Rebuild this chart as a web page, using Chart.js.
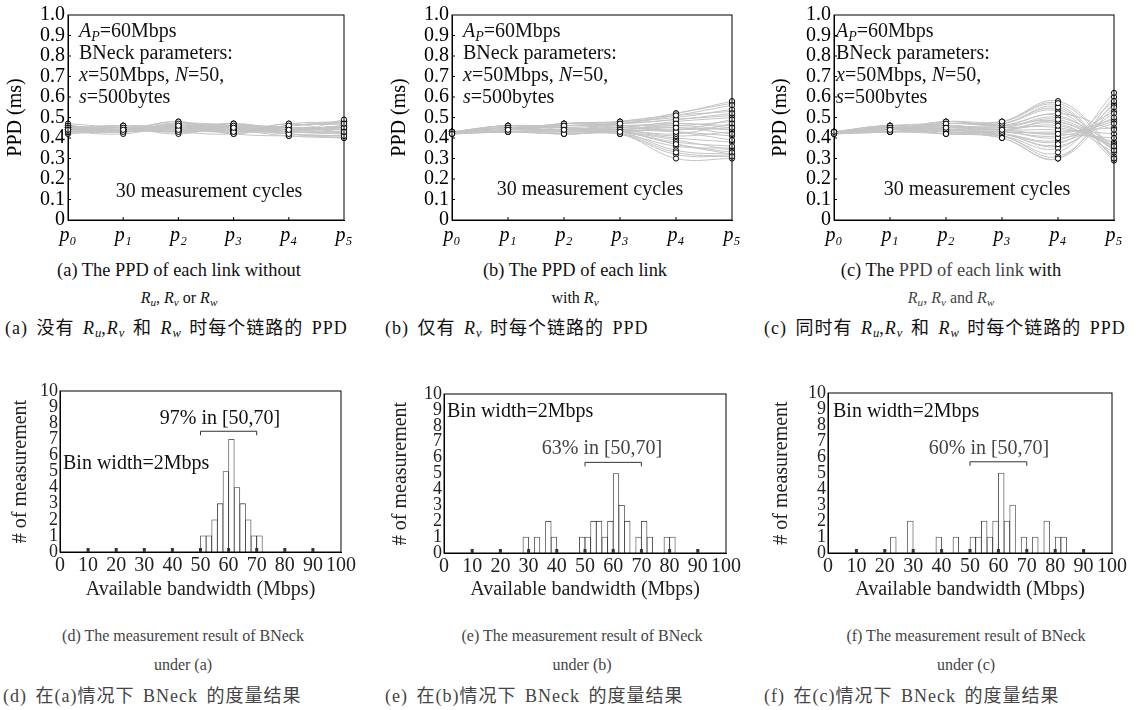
<!DOCTYPE html>
<html>
<head>
<meta charset="utf-8">
<script src="https://cdn.jsdelivr.net/npm/chart.js@4.4.1/dist/chart.umd.min.js"></script>
<style>
  body { margin: 0; background: #fff; }
  #fig { position: relative; width: 1140px; height: 710px; overflow: hidden;
         font-family: "Liberation Serif", "Times New Roman", serif; color: #111; }
  canvas { position: absolute; }
  .t { position: absolute; white-space: nowrap; }
  .cap { font-size: 16px; transform: translate(-50%, -50%); }
  .cap.big { font-size: 18.4px; }
  .zh { font-size: 18px; letter-spacing: 1px; word-spacing: 3px; transform: translateY(-50%);
        font-family: "Liberation Serif", "Noto Sans CJK SC", serif; }
  .note { font-size: 20px; line-height: 22px; }
  .mid { font-size: 20px; transform: translate(-50%, -50%); }
  .lft { font-size: 20px; transform: translateY(-50%); }
  sub { font-size: 70%; vertical-align: -0.25em; line-height: 0; letter-spacing: 0; }
  .gray { color: #444; }
</style>
</head>
<body>
<div id="fig">
  <canvas id="ppdA"></canvas>
  <canvas id="ppdB"></canvas>
  <canvas id="ppdC"></canvas>
  <canvas id="histD"></canvas>
  <canvas id="histE"></canvas>
  <canvas id="histF"></canvas>

  <!-- notes inside the PPD panels -->
  <div class="t note" style="left:79px;top:19px"><i>A</i><sub><i>P</i></sub>=60Mbps<br>BNeck parameters:<br><i>x</i>=50Mbps, <i>N</i>=50,<br><i>s</i>=500bytes</div>
  <div class="t note" style="left:463px;top:19px"><i>A</i><sub><i>P</i></sub>=60Mbps<br>BNeck parameters:<br><i>x</i>=50Mbps, <i>N</i>=50,<br><i>s</i>=500bytes</div>
  <div class="t note" style="left:836px;top:19px"><i>A</i><sub><i>P</i></sub>=60Mbps<br>BNeck parameters:<br><i>x</i>=50Mbps, <i>N</i>=50,<br><i>s</i>=500bytes</div>
  <div class="t mid" style="left:209px;top:190px">30 measurement cycles</div>
  <div class="t mid" style="left:590px;top:188px">30 measurement cycles</div>
  <div class="t mid" style="left:977px;top:188px">30 measurement cycles</div>

  <!-- notes inside the histograms -->
  <div class="t mid" style="left:220px;top:417px">97% in [50,70]</div>
  <div class="t lft" style="left:63px;top:462px">Bin width=2Mbps</div>
  <div class="t mid gray" style="left:602px;top:447px">63% in [50,70]</div>
  <div class="t lft" style="left:447px;top:410px">Bin width=2Mbps</div>
  <div class="t mid gray" style="left:989px;top:447px">60% in [50,70]</div>
  <div class="t lft" style="left:833px;top:410px">Bin width=2Mbps</div>

  <!-- captions -->
  <div class="t cap big" style="left:179px;top:270px">(a) The PPD of each link without</div>
  <div class="t cap" style="left:179px;top:298px"><i>R</i><sub><i>u</i></sub>, <i>R</i><sub><i>v</i></sub> or <i>R</i><sub><i>w</i></sub></div>
  <div class="t zh" style="left:5px;top:326px">(a) 没有 <i>R</i><sub><i>u</i></sub>,<i>R</i><sub><i>v</i></sub> 和 <i>R</i><sub><i>w</i></sub> 时每个链路的 PPD</div>
  <div class="t cap big" style="left:575px;top:270px">(b) The PPD of each link</div>
  <div class="t cap" style="left:575px;top:298px">with <i>R</i><sub><i>v</i></sub></div>
  <div class="t zh" style="left:385px;top:326px">(b) 仅有 <i>R</i><sub><i>v</i></sub> 时每个链路的 PPD</div>
  <div class="t cap big" style="left:951px;top:270px">(c) The <span class="gray">PPD of each link</span> with</div>
  <div class="t cap gray" style="left:951px;top:298px"><i>R</i><sub><i>u</i></sub>, <i>R</i><sub><i>v</i></sub> and <i>R</i><sub><i>w</i></sub></div>
  <div class="t zh" style="left:764px;top:326px">(c) 同时有 <i>R</i><sub><i>u</i></sub>,<i>R</i><sub><i>v</i></sub> 和 <i>R</i><sub><i>w</i></sub> 时每个链路的 PPD</div>

  <div class="t cap gray" style="left:183px;top:636px">(d) The measurement result of BNeck</div>
  <div class="t cap gray" style="left:183px;top:665px">under (a)</div>
  <div class="t zh gray" style="left:3px;top:694px">(d) 在(a)情况下 BNeck 的度量结果</div>
  <div class="t cap gray" style="left:582px;top:636px">(e) The measurement result of BNeck</div>
  <div class="t cap gray" style="left:582px;top:665px">under (b)</div>
  <div class="t zh gray" style="left:385px;top:694px">(e) 在(b)情况下 BNeck 的度量结果</div>
  <div class="t cap gray" style="left:966px;top:636px">(f) The measurement result of BNeck</div>
  <div class="t cap gray" style="left:966px;top:665px">under (c)</div>
  <div class="t zh gray" style="left:764px;top:694px">(f) 在(c)情况下 BNeck 的度量结果</div>
</div>

<script>
const links = ['p₀', 'p₁', 'p₂', 'p₃', 'p₄', 'p₅'];

// PPD (ms) read at each link, one value per measurement cycle (30 cycles)
// (a) without Ru, Rv or Rw
const ppdA0 = [0.44,0.45,0.43,0.46,0.44,0.45,0.47,0.43,0.44,0.45,0.46,0.44,0.43,0.45,0.44,0.46,0.45,0.44,0.43,0.45,0.44,0.46,0.45,0.44,0.42,0.45,0.44,0.46,0.45,0.44];
const ppdA1 = [0.44,0.45,0.43,0.44,0.46,0.44,0.45,0.42,0.45,0.44,0.43,0.46,0.44,0.45,0.43,0.44,0.45,0.46,0.44,0.43,0.45,0.44,0.43,0.45,0.44,0.46,0.43,0.44,0.45,0.44];
const ppdA2 = [0.46,0.44,0.47,0.43,0.45,0.48,0.44,0.46,0.42,0.45,0.47,0.44,0.46,0.43,0.45,0.44,0.47,0.45,0.43,0.46,0.44,0.48,0.45,0.43,0.46,0.44,0.45,0.47,0.44,0.46];
const ppdA3 = [0.45,0.43,0.46,0.44,0.47,0.42,0.45,0.44,0.46,0.43,0.45,0.47,0.44,0.42,0.46,0.45,0.43,0.44,0.46,0.45,0.47,0.43,0.44,0.45,0.42,0.46,0.44,0.45,0.43,0.46];
const ppdA4 = [0.44,0.46,0.42,0.45,0.43,0.47,0.44,0.41,0.45,0.46,0.43,0.44,0.42,0.46,0.45,0.43,0.44,0.47,0.45,0.42,0.44,0.46,0.43,0.45,0.41,0.44,0.46,0.43,0.45,0.44];
const ppdA5 = [0.43,0.47,0.41,0.45,0.49,0.42,0.46,0.40,0.44,0.48,0.43,0.45,0.41,0.47,0.44,0.42,0.46,0.48,0.43,0.40,0.45,0.47,0.42,0.44,0.41,0.46,0.48,0.43,0.45,0.42];
// (b) with Rv
const ppdB0 = [0.42,0.43,0.42,0.43,0.43,0.42,0.43,0.42,0.43,0.42,0.43,0.43,0.42,0.43,0.42,0.43,0.42,0.43,0.43,0.42,0.43,0.42,0.43,0.42,0.43,0.43,0.42,0.43,0.42,0.43];
const ppdB1 = [0.44,0.45,0.43,0.46,0.44,0.45,0.43,0.44,0.46,0.45,0.44,0.43,0.45,0.44,0.46,0.45,0.43,0.44,0.45,0.46,0.44,0.43,0.45,0.44,0.45,0.46,0.44,0.43,0.45,0.44];
const ppdB2 = [0.44,0.46,0.42,0.45,0.47,0.43,0.44,0.46,0.45,0.42,0.47,0.44,0.43,0.46,0.45,0.44,0.42,0.47,0.45,0.43,0.46,0.44,0.45,0.43,0.46,0.44,0.47,0.42,0.45,0.44];
const ppdB3 = [0.43,0.47,0.42,0.44,0.48,0.43,0.45,0.47,0.44,0.42,0.48,0.43,0.44,0.46,0.43,0.45,0.42,0.47,0.44,0.43,0.46,0.44,0.43,0.48,0.45,0.42,0.47,0.43,0.44,0.46];
const ppdB4 = [0.45,0.51,0.33,0.47,0.52,0.37,0.43,0.49,0.42,0.30,0.50,0.38,0.46,0.44,0.34,0.48,0.36,0.52,0.41,0.37,0.47,0.43,0.39,0.51,0.45,0.32,0.49,0.40,0.44,0.46];
const ppdB5 = [0.42,0.56,0.31,0.45,0.58,0.33,0.39,0.52,0.47,0.30,0.54,0.36,0.44,0.49,0.32,0.50,0.35,0.57,0.43,0.32,0.46,0.41,0.34,0.53,0.44,0.31,0.51,0.38,0.45,0.48];
// (c) with Ru, Rv and Rw
const ppdC0 = [0.43,0.42,0.43,0.43,0.42,0.43,0.42,0.43,0.42,0.43,0.43,0.42,0.43,0.42,0.43,0.42,0.43,0.43,0.42,0.43,0.42,0.43,0.43,0.42,0.43,0.42,0.43,0.42,0.43,0.43];
const ppdC1 = [0.44,0.45,0.43,0.46,0.44,0.43,0.45,0.44,0.46,0.45,0.43,0.44,0.45,0.44,0.46,0.43,0.45,0.44,0.45,0.46,0.43,0.44,0.45,0.44,0.43,0.46,0.44,0.45,0.44,0.43];
const ppdC2 = [0.45,0.47,0.42,0.44,0.48,0.43,0.46,0.44,0.47,0.42,0.45,0.48,0.43,0.46,0.44,0.45,0.42,0.47,0.46,0.43,0.44,0.48,0.45,0.42,0.46,0.44,0.47,0.43,0.45,0.44];
const ppdC3 = [0.44,0.48,0.40,0.43,0.47,0.42,0.45,0.41,0.48,0.43,0.44,0.46,0.40,0.45,0.42,0.47,0.41,0.46,0.44,0.42,0.43,0.48,0.45,0.41,0.44,0.43,0.47,0.42,0.46,0.44];
const ppdC4 = [0.46,0.57,0.30,0.42,0.55,0.37,0.49,0.33,0.58,0.40,0.47,0.52,0.30,0.50,0.38,0.54,0.35,0.48,0.44,0.36,0.41,0.56,0.45,0.31,0.48,0.43,0.53,0.39,0.51,0.42];
const ppdC5 = [0.36,0.34,0.55,0.40,0.30,0.58,0.36,0.62,0.35,0.47,0.33,0.44,0.60,0.37,0.50,0.31,0.56,0.35,0.42,0.52,0.48,0.30,0.38,0.57,0.36,0.45,0.29,0.53,0.34,0.49];

// histograms of measured available bandwidth (Mbps), bin width 2
const binWidth = 2;
const binStartD = [50,52,54,56,58,60,62,64,66,68,70];
const countD    = [1, 1, 2, 3, 5, 7, 4, 3, 2, 1, 1];
const binStartE = [28,32,36,38,48,50,52,54,56,58,60,62,64,68,70,72,78,80];
const countE    = [1, 1, 2, 1, 1, 1, 2, 2, 1, 2, 5, 3, 2, 1, 2, 1, 1, 1];
const binStartF = [22,28,38,44,50,52,54,56,58,60,62,64,68,72,76,80,82];
const countF    = [1, 2, 1, 1, 1, 1, 2, 1, 2, 5, 2, 3, 1, 1, 2, 1, 1];
const rangeLo = 50, rangeHi = 70;

const serif = '"Liberation Serif", "DejaVu Serif", serif';

// box round the plot, small inward ticks and the [50,70] bracket
const framePlugin = {
  id: 'frame',
  afterDatasetsDraw(chart, args, opts) {
    const { ctx, chartArea: a, scales } = chart;
    ctx.save();
    ctx.strokeStyle = '#000';
    ctx.lineWidth = 1;
    ctx.strokeRect(a.left, a.top, a.right - a.left, a.bottom - a.top);

    ctx.fillStyle = opts.tickColor || '#000';
    const xs = scales.x, ys = scales.y;
    xs.ticks.forEach((t, i) => {
      if (i === 0 || i === xs.ticks.length - 1) return;
      const px = xs.getPixelForTick(i);
      ctx.fillRect(px - opts.xTickW / 2, a.bottom - opts.xLen, opts.xTickW, opts.xLen);
    });
    if (opts.yLen) {
      ys.ticks.forEach((t, i) => {
        if (i === 0 || i === ys.ticks.length - 1) return;
        const py = ys.getPixelForTick(i);
        ctx.fillRect(a.left, py - 0.5, opts.yLen, 1);
      });
    }
    if (opts.bracket) {
      const b = opts.bracket;
      const x1 = xs.getPixelForValue(b.lo), x2 = xs.getPixelForValue(b.hi);
      const y = ys.getPixelForValue(b.level);
      ctx.strokeStyle = '#333';
      ctx.beginPath();
      ctx.moveTo(x1, y + 4); ctx.lineTo(x1, y); ctx.lineTo(x2, y); ctx.lineTo(x2, y + 4);
      ctx.stroke();
    }
    ctx.restore();
  }
};

function place(id, box) {
  const c = document.getElementById(id);
  c.width = box.w; c.height = box.h;
  c.style.left = box.left + 'px';
  c.style.top = box.top + 'px';
  return c;
}

function ppdChart(id, box, plot, yTitleX, columns) {
  const canvas = place(id, box);
  const lineSets = [], pointSets = [];
  for (let i = 0; i < columns[0].length; i++) {
    const vals = columns.map(col => col[i]);
    lineSets.push({ data: vals, borderColor: '#c4c4c4', borderWidth: 1, tension: 0.4,
                    pointRadius: 0, order: 2 });
    pointSets.push({ data: vals, showLine: false, pointRadius: 2.6, pointBorderColor: '#000',
                     pointBackgroundColor: '#fff', pointBorderWidth: 1, order: 1 });
  }
  new Chart(canvas, {
    type: 'line',
    data: { labels: links, datasets: lineSets.concat(pointSets) },
    options: {
      responsive: false, animation: false, events: [],
      layout: { padding: { top: plot.t - box.top, right: box.left + box.w - plot.r, left: 0, bottom: 0 } },
      plugins: { legend: { display: false }, tooltip: { enabled: false },
                 frame: { xLen: 3, xTickW: 1, yLen: 3 } },
      scales: {
        x: {
          type: 'category', offset: false,
          grid: { display: false, drawTicks: false }, border: { color: '#000' },
          ticks: { padding: 4, color: '#000', autoSkip: false, maxRotation: 0,
                   font: { family: serif, size: 20, style: 'italic' } },
          afterFit: s => { s.height = box.top + box.h - plot.b; }
        },
        y: {
          min: 0, max: 1,
          grid: { display: false, drawTicks: false }, border: { color: '#000' },
          ticks: { stepSize: 0.1, autoSkip: false, padding: 3, color: '#000',
                   font: { family: serif, size: 20 },
                   callback: v => v === 0 ? '0' : v.toFixed(1) },
          title: { display: true, text: 'PPD (ms)', color: '#000',
                   font: { family: serif, size: 20 }, padding: { top: yTitleX - box.left - 12 } },
          afterFit: s => { s.width = plot.l - box.left; }
        }
      }
    },
    plugins: [framePlugin]
  });
}

function histChart(id, box, plot, yTitleX, xTitleY, starts, counts, level) {
  const canvas = place(id, box);
  const bars = counts.map((c, i) => ({ x: starts[i] + binWidth / 2, y: c }));
  new Chart(canvas, {
    type: 'bar',
    data: { datasets: [{ data: bars, backgroundColor: '#fff', borderColor: '#333', borderWidth: 0.8,
                         barPercentage: 1, categoryPercentage: 1 }] },
    options: {
      responsive: false, animation: false, events: [],
      layout: { padding: { top: plot.t - box.top, right: box.left + box.w - plot.r, left: 0, bottom: 0 } },
      plugins: { legend: { display: false }, tooltip: { enabled: false },
                 frame: { xLen: 4, xTickW: 3, yLen: 0, tickColor: '#333',
                          bracket: { lo: rangeLo, hi: rangeHi, level: level } } },
      scales: {
        x: {
          type: 'linear', min: 0, max: 100, offset: false,
          grid: { display: false, drawTicks: false }, border: { color: '#000' },
          ticks: { stepSize: 10, padding: 2, color: '#222', autoSkip: false, maxRotation: 0,
                   font: { family: serif, size: 20 } },
          title: { display: true, text: 'Available bandwidth (Mbps)', color: '#222',
                   font: { family: serif, size: 20 },
                   padding: { top: 0, bottom: box.h - (xTitleY - box.top) - 12 } },
          afterFit: s => { s.height = box.top + box.h - plot.b; }
        },
        y: {
          min: 0, max: 10,
          grid: { display: false, drawTicks: false }, border: { color: '#000' },
          ticks: { stepSize: 1, autoSkip: false, padding: 2, color: '#222',
                   font: { family: serif, size: 18, lineHeight: 1 } },
          title: { display: true, text: '# of measurement', color: '#222',
                   font: { family: serif, size: 20 }, padding: { top: yTitleX - box.left - 12 } },
          afterFit: s => { s.width = plot.l - box.left; }
        }
      }
    },
    plugins: [framePlugin]
  });
}

ppdChart('ppdA', { left: 0, top: 0, w: 365, h: 250 }, { l: 68, r: 344, t: 14, b: 220 }, 16,
         [ppdA0, ppdA1, ppdA2, ppdA3, ppdA4, ppdA5]);
ppdChart('ppdB', { left: 380, top: 0, w: 375, h: 250 }, { l: 452, r: 732, t: 14, b: 220 }, 400,
         [ppdB0, ppdB1, ppdB2, ppdB3, ppdB4, ppdB5]);
ppdChart('ppdC', { left: 760, top: 0, w: 380, h: 250 }, { l: 834, r: 1114, t: 14, b: 220 }, 781,
         [ppdC0, ppdC1, ppdC2, ppdC3, ppdC4, ppdC5]);

histChart('histD', { left: 0, top: 370, w: 365, h: 235 }, { l: 60, r: 341, t: 391, b: 552 }, 21, 590,
          binStartD, countD, 7.5);
histChart('histE', { left: 380, top: 370, w: 375, h: 235 }, { l: 444, r: 726, t: 394, b: 553 }, 401, 590,
          binStartE, countE, 5.7);
histChart('histF', { left: 760, top: 370, w: 380, h: 235 }, { l: 828, r: 1112, t: 393, b: 553 }, 782, 590,
          binStartF, countF, 5.7);
</script>
</body>
</html>
